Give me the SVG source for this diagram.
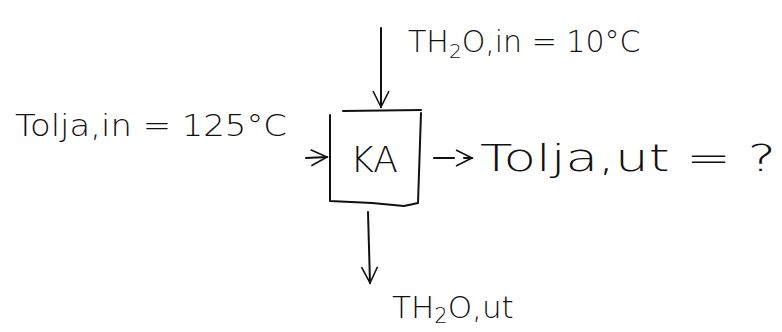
<svg xmlns="http://www.w3.org/2000/svg" width="782" height="332" viewBox="0 0 782 332">
<style>
.t{font-family:"DejaVu Sans","Liberation Sans",sans-serif;font-weight:200;fill:#111;}
.c{fill:none;stroke:#111;stroke-width:2;stroke-linecap:round;stroke-linejoin:round;}
</style>
<defs>
<marker id="ah" viewBox="0 0 20 20" refX="18" refY="10" markerWidth="20" markerHeight="20" markerUnits="userSpaceOnUse" orient="auto">
<path d="M2,2 L18,10 L2,18" fill="none" stroke="#111" stroke-width="1.6"/>
</marker>
</defs>
<rect width="782" height="332" fill="#fff"/>
<g id="connectors">
<path class="c" d="M381,28 L381,107" marker-end="url(#ah)"/>
<path class="c" d="M306,158 L327,157" marker-end="url(#ah)"/>
<path class="c" d="M434,158 L472,158" stroke-dasharray="20 10" marker-end="url(#ah)"/>
<path class="c" d="M368,212 L370,283" marker-end="url(#ah)"/>
</g>
<g id="node-KA">
<path class="c" d="M330,115 L330,201 L372,203 L404,206 L418,203 L421,113 M343,111 L421,110" stroke-width="2.4"/>
<text class="t" x="374" y="172" font-size="36" text-anchor="middle">KA</text>
</g>
<g id="label-oil-in">
<text class="t" x="15" y="136" font-size="30" textLength="272" lengthAdjust="spacingAndGlyphs">Tolja,in = 125°C</text>
</g>
<g id="label-h2o-in">
<text class="t" x="408" y="52" font-size="30">TH<tspan font-size="20" dy="6">2</tspan><tspan dy="-6">O,in = 10°C</tspan></text>
</g>
<g id="label-oil-out">
<text class="t" x="480" y="171" font-size="38" textLength="296" lengthAdjust="spacingAndGlyphs">Tolja,ut = ?</text>
</g>
<g id="label-h2o-out">
<text class="t" x="392" y="318" font-size="31">TH<tspan font-size="21" dy="5">2</tspan><tspan dy="-5">O,ut</tspan></text>
</g>
</svg>
